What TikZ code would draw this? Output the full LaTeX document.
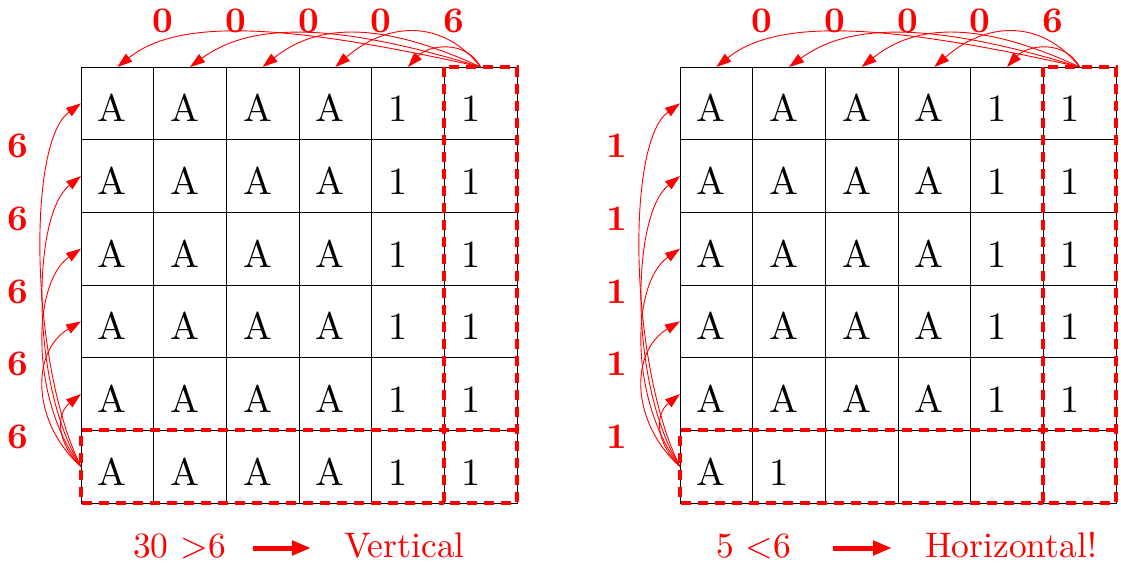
\documentclass[tikz,border=0pt]{standalone}
\usepackage{fontspec}
\setmainfont{lmroman10-regular.otf}[BoldFont=lmroman10-bold.otf]
\usetikzlibrary{arrows.meta}
\begin{document}
\begin{tikzpicture}[x=1pt,y=-1pt,
  cell/.style={draw=black, line width=0.8pt, minimum width=72.667pt, minimum height=72.667pt, inner sep=0pt, outer sep=0pt},
  celltext/.style={anchor=base west, inner sep=0pt, font=\fontsize{38.5}{40}\selectfont},
  numlab/.style={text=red, font=\bfseries\fontsize{36}{40}\selectfont, inner sep=0pt, anchor=base},
  arr/.style={red, line width=0.9pt, -{Triangle[length=15pt,width=10pt]}},
  dashbox/.style={red, line width=4.2pt, dash pattern=on 10pt off 7pt},
  bigarrow/.style={red, line width=5pt, -{Triangle[length=19pt,width=14pt]}},
  caption/.style={text=red, anchor=base west, inner sep=0pt, font=\fontsize{35.5}{40}\selectfont}]
\useasboundingbox (0,0) rectangle (1121,565);

% grids
\foreach \g/\ox in {L/81,R/680} {
  \foreach \r in {1,...,6} {
    \foreach \c in {1,...,6} {
      \node[cell] (\g\r\c) at ({\ox+(\c-0.5)*72.667},{67+(\r-0.5)*72.667}) {};
    }
  }
}

% cell texts
\foreach \g in {L,R} {
  \foreach \r in {1,...,5} {
    \foreach \c/\t in {1/A,2/A,3/A,4/A,5/1,6/1} {
      \node[celltext] (t\g\r\c) at ([xshift=16.5pt,yshift=-18.5pt]\g\r\c.west) {\t};
    }
  }
}
\foreach \c/\t in {1/A,2/A,3/A,4/A,5/1,6/1} {
  \node[celltext] (tL6\c) at ([xshift=16.5pt,yshift=-18.5pt]L6\c.west) {\t};
}
\foreach \c/\t in {1/A,2/1} {
  \node[celltext] (tR6\c) at ([xshift=16.5pt,yshift=-18.5pt]R6\c.west) {\t};
}

% dashed boxes
\foreach \g in {L,R} {
  \draw[dashbox] (\g16.north west) rectangle (\g66.south east);
  \draw[dashbox] (\g66.north east) -- (\g61.north west) -- (\g61.south west) -- (\g66.south west);
}

% top labels
\foreach \g in {L,R} {
  \foreach \c/\t in {1/0,2/0,3/0,4/0,5/6} {
    \node[numlab] (n\g\c) at ([xshift=46pt,yshift=35pt]\g1\c.north) {\t};
  }
}
% side labels
\foreach \r in {1,...,5} {
  \node[numlab] (mL\r) at ([xshift=-63pt,yshift=-54.5pt]L\r1.west) {6};
  \node[numlab] (mR\r) at ([xshift=-63pt,yshift=-54.5pt]R\r1.west) {1};
}

% arrows
\foreach \g in {L,R} {
  \draw[arr] (\g16.north) .. controls +(-200,-45) and +(60,-48) .. (\g11.north);
  \draw[arr] (\g16.north) .. controls +(-150,-46) and +(60,-44) .. (\g12.north);
  \draw[arr] (\g16.north) .. controls +(-100,-46) and +(55,-44) .. (\g13.north);
  \draw[arr] (\g16.north) .. controls +(-40,-50) and +(50,-44) .. (\g14.north);
  \draw[arr] (\g16.north) .. controls +(-15,-28) and +(20,-22) .. (\g15.north);
  \draw[arr] (\g61.west) .. controls +(-50,-100) and +(-55,40) .. (\g11.west);
  \draw[arr] (\g61.west) .. controls +(-50,-80) and +(-50,40) .. (\g21.west);
  \draw[arr] (\g61.west) .. controls +(-50,-65) and +(-50,35) .. (\g31.west);
  \draw[arr] (\g61.west) .. controls +(-50,-45) and +(-50,30) .. (\g41.west);
  \draw[arr] (\g61.west) .. controls +(-25,-25) and +(-25,20) .. (\g51.west);
}

% captions
\node[caption] (capL) at (133,557) {30 >6};
\coordinate (aL1) at (253,548);
\coordinate (aL2) at (311,548);
\draw[bigarrow] (aL1) -- (aL2);
\node[caption] (capLv) at (344,557) {Vertical};

\node[caption] (capR) at (716,557) {5 <6};
\coordinate (aR1) at (833,548);
\coordinate (aR2) at (892,548);
\draw[bigarrow] (aR1) -- (aR2);
\node[caption] (capRh) at (925,557) {Horizontal!};
\end{tikzpicture}
\end{document}
